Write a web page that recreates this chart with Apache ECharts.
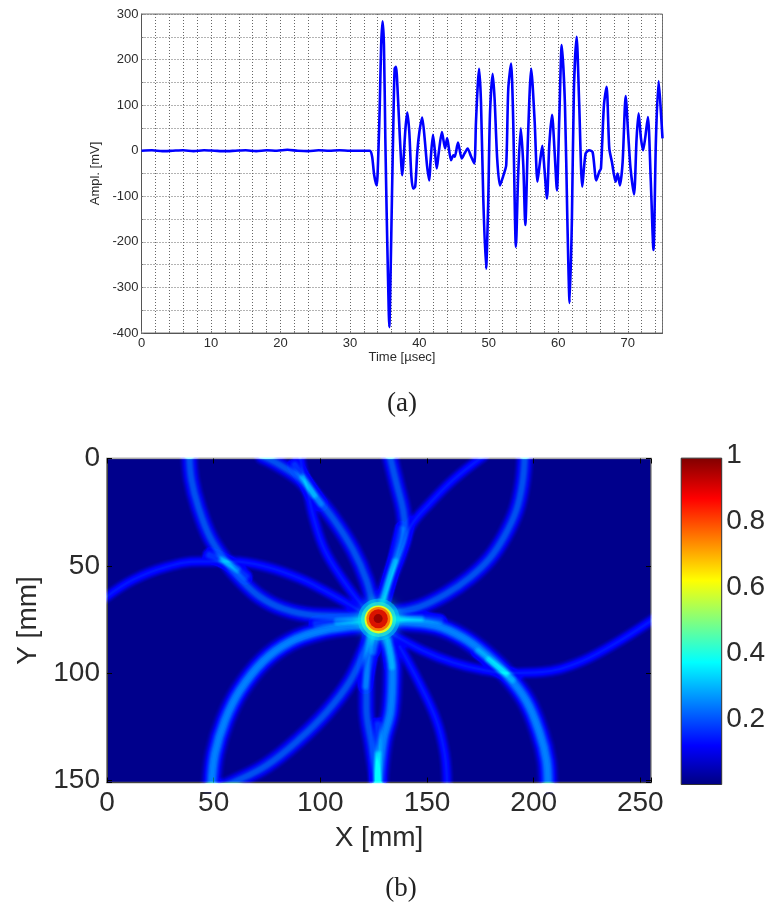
<!DOCTYPE html>
<html><head><meta charset="utf-8">
<style>html,body{margin:0;padding:0;background:#fff}#c{width:769px;height:903px}</style>
<script src="https://cdn.jsdelivr.net/npm/echarts@6/dist/echarts.min.js"></script>
</head><body><div id="c"></div>
<script>
// (a) waveform
const timeUs=[0,1.5,3,4.5,6,7.5,9,10.5,12,13.5,15,16.5,18,19.5,21,22.5,24,25.5,27,28.5,30,31.5,32.9,33.2,33.5,33.85,34.1,34.3,34.5,34.7,34.9,35.1,35.3,35.5,35.67,35.86,36.05,36.25,36.44,36.63,36.9,37.2,37.54,37.7,38,38.26,38.55,38.84,39.1,39.4,39.7,40,40.4,40.76,41.1,41.43,41.6,41.96,42.25,42.5,42.8,43.25,43.7,44,44.55,44.9,45.1,45.56,46.1,46.5,46.95,47.4,47.9,48.15,48.4,48.6,48.87,49.2,49.6,49.9,50.16,50.55,50.83,51.2,51.6,52.1,52.5,52.8,53.2,53.5,53.9,54.24,54.6,54.96,55.25,55.63,56.1,56.6,57,57.36,57.7,58,58.37,58.7,59.1,59.47,59.8,60.14,60.5,60.96,61.3,61.63,61.96,62.25,62.64,63,63.45,63.93,64.46,64.94,65.47,65.9,66.14,66.57,66.95,67.34,67.72,68.25,68.54,68.87,69.26,69.7,70.07,70.4,70.9,71.27,71.56,71.9,72.2,72.5,72.9,73.3,73.7,74.06,74.44,74.77,75];
const amplMv=[0,1,-1,0,1,-1,1,0,-1,0,1,-1,1,0,2,0,-1,1,0,1,0,0,0,-13,-54,-76,-3,100,232,284,232,27,-142,-288,-387,-266,-105,56,180,184,122,27,-54,-25,49,84,41,-54,-83,-79,-3,41,73,27,-32,-65,-25,35,-3,-39,-3,41,5,28,-21,-10,-13,18,-17,-6,5,-11,-28,63,144,180,107,-105,-259,-120,78,169,114,-17,-76,-54,-32,136,191,71,-211,-46,49,-32,-163,27,180,63,-68,-25,11,-39,-105,12,79,-3,-87,71,232,100,-149,-334,-149,136,250,107,-79,-6,1,-3,-65,-46,-39,100,140,5,-25,-68,-50,-76,-25,120,34,-39,-96,27,82,27,1,27,74,-61,-218,27,153,85,27];
const xTickLabels=[0,10,20,30,40,50,60,70];
const yTickLabels=[-400,-300,-200,-100,0,100,200,300];
// (b) imaging map: ridges, [X mm, Y mm]
const arcTopCircleLeft=[[38.6,-1],[39.6,10],[42.8,22.5],[48.2,36.5],[55.3,47.4],[62.3,55.9],[71.7,64.5],[82.6,70],[96.7,73],[115.4,73.5],[127,73]];
const arcTopCircleRight=[[127,73],[132.6,72.2],[146.6,69.1],[159.1,63],[170,55.5],[179.4,46.5],[186.4,36],[191.9,24],[194.7,11.6],[195.8,-1]];
const arcUpperOuter=[[73.2,-1],[81,3],[90.4,9.3],[96.6,16.3],[106,28],[115.4,42.7],[121.6,56.7],[124.7,69.1]];
const arcUpperInner=[[90.4,-1],[92,6.9],[94.3,16.3],[97,28],[102.1,42.7],[110.7,56.7],[120,69.1]];
const arcLeftCrown=[[-1,65],[12.3,56.5],[27.9,50.5],[43.6,48],[59.2,48],[74.8,50.5],[90.4,55.9],[102.9,62.1],[115.4,69.1],[121.6,73]];
const arcLowerRight=[[134,82],[148,89.5],[162,95],[176,98.5],[189,100],[204,99.5],[220,95.5],[236,87.5],[256,75]];
const arcRightBend=[[130,75.5],[138.8,76],[154.4,78],[166.9,83.5],[177.8,91.5],[187.2,100.5],[196.6,113],[202.8,128],[206,140.7],[206.7,152]];
const arcLowerLeft=[[49,152],[50.6,137.6],[55.3,122.1],[62.3,108.1],[73.2,94.5],[85.7,85.5],[99.8,80.5],[115.4,78],[125,77]];
const arcLowerInner=[[52,154],[59.2,151],[74.8,143],[90.4,130.6],[102.9,118.2],[113.8,104],[120.8,89.4],[124.7,79.3]];
const arcStemRight=[[131,84.7],[133.8,98.7],[132.9,117.4],[129.4,131.4],[127.1,152]];
const arcStemLeft=[[124,81.6],[121.6,100.3],[121.6,115.8],[124,133],[127.1,152]];
const arcThinRight=[[137.3,87.8],[146.6,105],[154.4,122],[158.3,137.6],[159.4,152]];
const arcTopStem=[[132.6,-1],[135.7,11.6],[138.8,24],[139.6,32.6],[136.9,44.3],[132.6,55.1],[129.1,66]];
const arcTopDiag=[[176.3,-1],[162.2,10],[151.3,20.9],[142.7,31],[138.8,41.1],[134.1,53.6],[130.2,65.3]];
const strongArcs=[arcLowerLeft,arcRightBend,arcStemRight];
const mediumArcs=[arcTopCircleLeft,arcTopCircleRight,arcLowerInner,arcUpperOuter,arcTopStem,arcStemLeft];
const weakArcs=[arcUpperInner,arcLeftCrown,arcLowerRight,arcThinRight,arcTopDiag];
// brighter ridge stretches near the focus and at crossings
const brightLong=[[[98,77],[110,76],[122,75]],[[133,75],[144,74.5],[156,75.5]],[[138,33],[134,50],[130,66]],[[126,84],[123,96],[121,106]],[[132,85],[133.5,97]],[[127,124],[127,152]],[[174,90],[183,97],[190,103]],[[48,45],[57,49],[65,55]],[[88,3],[94,12],[100,21]]];
const brightShort=[[[108,76],[116,75.5],[124,75]],[[132,75],[140,74.5],[147,74.5]],[[135,48],[132,57],[129,67]],[[126,83],[125,90]],[[127,138],[127,152]],[[179,94],[183,97],[187,100]],[[54,47.5],[58,49.5],[61,51.5]],[[92,9],[94,12],[97,17]]];
const hotCore=[[127.4,75,.36],[127.3,75,.45],[127.3,75,.6],[127.2,74.8,.72],[127.2,74.7,.87],[127.1,74.6,.98]];
const mapXTicks=[0,50,100,150,200,250];
const mapYTicks=[0,50,100,150];
const barTicks=[.2,.4,.6,.8,1];
const colorbarValue=[.992];

const jetStops=[[0,'#000080'],[.12,'#0000ff'],[.375,'#00ffff'],[.625,'#ffff00'],[.875,'#ff0000'],[1,'#800000']];
// additive stroke stacks [width, green, blue]: a soft ridge profile on the navy field
const profileStrong=[[24,0,10],[22,0,14],[20,0,20],[18,0,26],[16,0,25],[14,0,20],[14,14,0],[12,22,0],[10,28,0],[8,28,0],[6,24,0],[3,12,0]];
const profileMedium=[[20,0,12],[18,0,18],[16,0,24],[14,0,26],[12,0,20],[11,10,0],[9,18,0],[7,22,0],[5,20,0],[3,10,0]];
const profileWeak=[[14,0,14],[12,0,20],[10,0,26],[8,0,28],[6,0,27],[4,8,0],[2,14,0]];
const profileBrightLong=[[16,0,30],[14,0,40],[12,0,40],[10,8,0],[8,12,0],[6,14,0],[4,12,0]];
const profileBrightShort=[[14,0,30],[12,0,40],[10,8,0],[8,14,0],[6,16,0],[4,14,0]];
const arcSeries=[];
function addArcs(list,layers){layers.forEach(l=>list.forEach(a=>arcSeries.push({
  type:'line',xAxisIndex:2,yAxisIndex:2,data:a,smooth:.4,showSymbol:false,silent:true,blendMode:'lighter',
  lineStyle:{width:l[0],color:`rgb(0,${l[1]},${l[2]})`,cap:'round',opacity:1}})));}
addArcs(strongArcs,profileStrong);addArcs(mediumArcs,profileMedium);addArcs(weakArcs,profileWeak);
addArcs(brightLong,profileBrightLong);addArcs(brightShort,profileBrightShort);

const ink='#2b2b2b';
const chart=echarts.init(document.getElementById('c'),null,{renderer:'canvas'});
const sansTop={fontFamily:'Liberation Sans',fontSize:13,color:ink};
const sansBig={fontFamily:'Liberation Sans',fontSize:28,color:ink};
const dotted={show:true,lineStyle:{color:'#666',type:[1,2],width:1}};
function pick(arr){return v=>arr.indexOf(v)>=0?String(v):'';}
const hotSize={0.36:42,0.45:35,0.6:28,0.72:24,0.87:19,0.98:9};
chart.setOption({
 animation:false,backgroundColor:'#fff',
 title:[
  {text:'(a)',left:397,top:385,textAlign:'center',textStyle:{fontFamily:'Liberation Serif',fontWeight:'normal',fontSize:27,color:'#222'}},
  {text:'(b)',left:396,top:870,textAlign:'center',textStyle:{fontFamily:'Liberation Serif',fontWeight:'normal',fontSize:27,color:'#222'}}
 ],
 grid:[
  {left:141.5,top:14,width:521,height:319,show:true,borderColor:'#777',borderWidth:1,backgroundColor:'#fff'},
  {left:680.7,top:455,width:41.5,height:330,show:false},
  {left:107,top:458.5,width:544,height:324,show:true,borderColor:'#666',borderWidth:1.5,backgroundColor:'#00008c'}
 ],
 xAxis:[
  {gridIndex:0,type:'value',min:0,max:75,interval:2,name:'Time [µsec]',nameLocation:'middle',nameGap:16,
   nameTextStyle:{fontFamily:'Liberation Sans',fontSize:13,color:ink},
   axisLine:{onZero:false,lineStyle:{color:'#555'}},axisTick:{inside:true,length:2,lineStyle:{color:'#777'}},
   axisLabel:{...sansTop,margin:4,formatter:pick(xTickLabels),showMinLabel:true,showMaxLabel:false},splitLine:dotted},
  {gridIndex:1,type:'category',data:['c'],show:false},
  {gridIndex:2,type:'value',min:0,max:255,interval:50,name:'X [mm]',nameLocation:'middle',nameGap:42,
   nameTextStyle:sansBig,axisLine:{onZero:false,lineStyle:{color:'#444'}},axisTick:{inside:true,length:5,lineStyle:{color:'#000'}},
   axisLabel:{...sansBig,margin:7,formatter:pick(mapXTicks)},splitLine:{show:false}},
  {gridIndex:2,type:'value',position:'top',min:0,max:255,interval:50,
   axisLine:{onZero:false,lineStyle:{color:'#aaa'}},axisTick:{inside:true,length:5,lineStyle:{color:'#000'}},
   axisLabel:{show:false},splitLine:{show:false}}
 ],
 yAxis:[
  {gridIndex:0,type:'value',min:-400,max:300,interval:50,name:'Ampl. [mV]',nameLocation:'middle',nameGap:25,
   nameTextStyle:{fontFamily:'Liberation Sans',fontSize:13,color:ink},
   axisLine:{onZero:false,lineStyle:{color:'#555'}},axisTick:{inside:true,length:2,lineStyle:{color:'#777'}},
   axisLabel:{...sansTop,margin:3,formatter:pick(yTickLabels)},splitLine:dotted},
  {gridIndex:1,type:'value',min:0,max:1,interval:.2,position:'right',
   axisLine:{show:false},axisTick:{inside:true,length:4,lineStyle:{color:'#222'}},
   axisLabel:{...sansBig,margin:4,formatter:pick(barTicks)},splitLine:{show:false}},
  {gridIndex:2,type:'value',min:0,max:151,interval:50,inverse:true,name:'Y [mm]',nameLocation:'middle',nameGap:54,
   nameTextStyle:sansBig,axisLine:{onZero:false,lineStyle:{color:'#444'}},axisTick:{inside:true,length:5,lineStyle:{color:'#000'}},
   axisLabel:{...sansBig,margin:7,formatter:pick(mapYTicks)},splitLine:{show:false}},
  {gridIndex:1,type:'value',min:0,max:1,interval:.2,position:'left',
   axisLine:{show:false},axisTick:{inside:true,length:4,lineStyle:{color:'#222'}},axisLabel:{show:false},splitLine:{show:false}},
  {gridIndex:2,type:'value',position:'right',min:0,max:151,interval:50,inverse:true,
   axisLine:{onZero:false,lineStyle:{color:'#aaa'}},axisTick:{inside:true,length:5,lineStyle:{color:'#000'}},
   axisLabel:{show:false},splitLine:{show:false}}
 ],
 visualMap:[{type:'continuous',show:false,min:0,max:1,dimension:2,seriesIndex:[arcSeries.length+2],
   inRange:{color:jetStops.map(s=>s[1])}}],
 series:[
  {type:'line',xAxisIndex:0,yAxisIndex:0,data:timeUs.map((t,i)=>[t,amplMv[i]]),showSymbol:false,silent:true,smooth:.25,
   lineStyle:{color:'#0000ff',width:2.6}},
  {type:'bar',xAxisIndex:1,yAxisIndex:1,data:colorbarValue,barWidth:'100%',silent:true,
   itemStyle:{borderColor:'#333',borderWidth:1,color:new echarts.graphic.LinearGradient(0,1,0,0,jetStops.map(s=>({offset:s[0],color:s[1]})))}},
  ...arcSeries,
  {type:'scatter',xAxisIndex:2,yAxisIndex:2,silent:true,z:5,
   data:hotCore.map(d=>d[2]<.5?{value:d,itemStyle:{shadowBlur:10,shadowColor:'rgba(0,255,200,.7)',opacity:.5}}:{value:d}),
   symbolSize:d=>hotSize[d[2]],itemStyle:{opacity:.85}}
 ]
});
</script></body></html>
